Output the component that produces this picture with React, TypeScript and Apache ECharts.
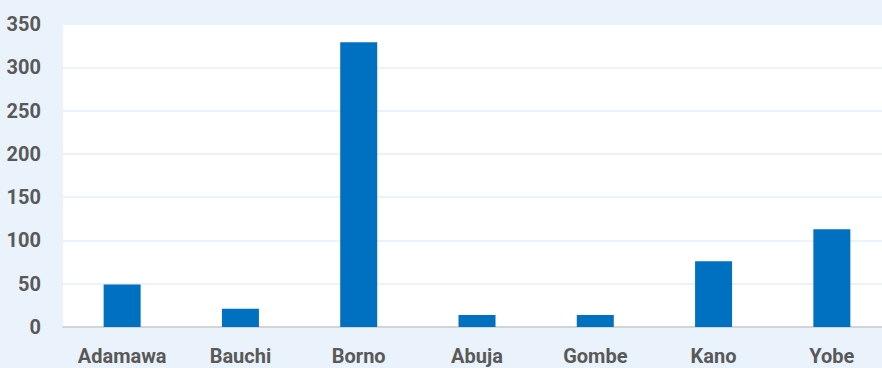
import React, { useEffect, useRef } from "react";
import * as echarts from "echarts";

const categories = ["Adamawa", "Bauchi", "Borno", "Abuja", "Gombe", "Kano", "Yobe"];
const values = [49, 21, 329, 14, 14, 76, 113];
const yMin = 0;
const yMax = 350;
const yInterval = 50;

const FONT = "Roboto, 'DejaVu Sans Condensed', sans-serif";

export default function App() {
  const ref = useRef<HTMLDivElement>(null);
  useEffect(() => {
    if (!ref.current) return;
    const chart = echarts.init(ref.current, null, { renderer: "svg" });
    chart.setOption({
      animation: false,
      backgroundColor: "#EAF3FC",
      grid: {
        left: 63,
        width: 828,
        top: 24,
        bottom: 41,
        show: true,
        backgroundColor: "#FFFFFF",
        borderWidth: 0,
        outerBoundsMode: "none",
        containLabel: false,
      },
      xAxis: {
        type: "category",
        data: categories,
        axisTick: { show: false },
        axisLine: { show: true, lineStyle: { color: "#D4D4D4", width: 2 } },
        axisLabel: {
          color: "#595959",
          fontFamily: FONT,
          fontWeight: "bold",
          fontSize: 20,
          margin: 19,
          interval: 0,
        },
      },
      yAxis: {
        type: "value",
        min: yMin,
        max: yMax,
        interval: yInterval,
        axisLine: { show: false },
        axisTick: { show: false },
        splitLine: { show: true, lineStyle: { color: "#EAF3FC", width: 2 } },
        axisLabel: {
          color: "#595959",
          fontFamily: FONT,
          fontWeight: "bold",
          fontSize: 20,
          margin: 22,
        },
      },
      series: [
        {
          type: "bar",
          data: values,
          barWidth: 37,
          itemStyle: { color: "#0070C0" },
        },
      ],
    });
    return () => chart.dispose();
  }, []);
  return (
    <div
      ref={ref}
      style={{ position: "fixed", left: 0, top: 0, width: 882, height: 368, background: "#EAF3FC" }}
    />
  );
}
